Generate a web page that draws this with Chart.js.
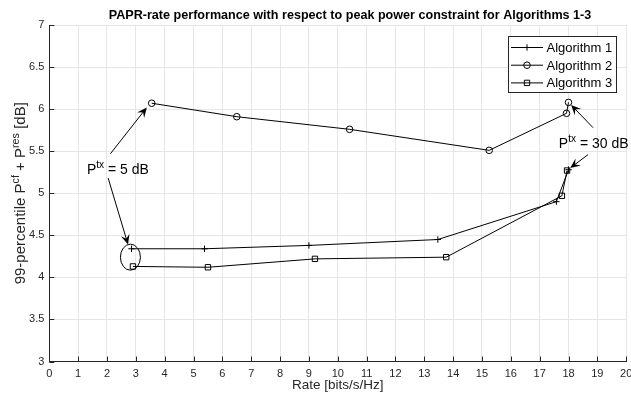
<!DOCTYPE html>
<html>
<head>
<meta charset="utf-8">
<script src="https://cdn.jsdelivr.net/npm/chart.js@4.4.0/dist/chart.umd.min.js"></script>
<style>
body{margin:0;background:#fff}
#wrap{width:631px;height:397px}
</style>
</head>
<body>
<div id="wrap"><canvas id="c"></canvas></div>
<script>
// values
const seriesNames = ["Algorithm 1","Algorithm 2","Algorithm 3"];
const alg1Rate = [2.85, 5.38, 9.0, 13.47, 17.58, 18.0];
const alg1Papr = [4.34, 4.34, 4.38, 4.45, 4.90, 5.28];
const alg2Rate = [3.55, 6.5, 10.41, 15.25, 17.93, 18.0];
const alg2Papr = [6.07, 5.91, 5.76, 5.51, 5.95, 6.08];
const alg3Rate = [2.9, 5.5, 9.21, 13.76, 17.77, 17.95];
const alg3Papr = [4.13, 4.12, 4.22, 4.24, 4.97, 5.27];
const xRange = [0, 20], xStep = 1;
const yRange = [3, 7], yStep = 0.5;

const FONT = "'Liberation Sans', Arial, Helvetica, sans-serif";
const AXIS = "#262626";
const pts = (xs, ys) => xs.map((x, i) => ({x: x, y: ys[i]}));
const markers = ["cross", "circle", "rect"];
const markerSize = [3.2, 3.3, 3.8];

function ds(i, xs, ys){
    return {
        label: seriesNames[i], data: pts(xs, ys),
        borderColor: "#000", borderWidth: 1, tension: 0,
        pointStyle: markers[i], pointRadius: markerSize[i], pointHoverRadius: markerSize[i],
        pointBorderColor: "#000", pointBorderWidth: 1, pointBackgroundColor: "rgba(0,0,0,0)"
    };
}

function drawRich(ctx, parts, x, y, size){
    // parts: [text, isSup]
    let cx = x;
    parts.forEach(p => {
        const s = p[1] ? size * 0.72 : size;
        ctx.font = s + "px " + FONT;
        ctx.fillText(p[0], cx, p[1] ? y - size * 0.42 : y);
        cx += ctx.measureText(p[0]).width;
    });
    return cx - x;
}
function richWidth(ctx, parts, size){
    let w = 0;
    parts.forEach(p => { ctx.font = (p[1] ? size * 0.72 : size) + "px " + FONT; w += ctx.measureText(p[0]).width; });
    return w;
}
function arrow(ctx, x1, y1, x2, y2){
    const a = Math.atan2(y2 - y1, x2 - x1), L = 10, W = 4.5;
    ctx.beginPath(); ctx.moveTo(x1, y1); ctx.lineTo(x2 - Math.cos(a) * 5, y2 - Math.sin(a) * 5); ctx.stroke();
    ctx.beginPath();
    ctx.moveTo(x2, y2);
    ctx.lineTo(x2 - L * Math.cos(a) + W * Math.sin(a), y2 - L * Math.sin(a) - W * Math.cos(a));
    ctx.lineTo(x2 - 0.6 * L * Math.cos(a), y2 - 0.6 * L * Math.sin(a));
    ctx.lineTo(x2 - L * Math.cos(a) - W * Math.sin(a), y2 - L * Math.sin(a) + W * Math.cos(a));
    ctx.closePath(); ctx.fill();
}

const decor = {
    id: "decor",
    afterDraw(chart){
        const ctx = chart.ctx, a = chart.chartArea;
        const xs = chart.scales.x, ys = chart.scales.y;
        const P = (x, y) => [xs.getPixelForValue(x), ys.getPixelForValue(y)];
        ctx.save();
        // inward ticks
        ctx.strokeStyle = AXIS; ctx.lineWidth = 1;
        ctx.beginPath();
        xs.ticks.forEach(t => { const px = Math.round(xs.getPixelForValue(t.value)) + 0.5; ctx.moveTo(px, a.bottom); ctx.lineTo(px, a.bottom - 5); });
        ys.ticks.forEach(t => { const py = Math.round(ys.getPixelForValue(t.value)) + 0.5; ctx.moveTo(a.left, py); ctx.lineTo(a.left + 5, py); });
        ctx.stroke();

        ctx.fillStyle = "#000"; ctx.textBaseline = "alphabetic";
        // title
        ctx.font = "bold 12.6px " + FONT; ctx.textAlign = "center";
        ctx.fillText("PAPR-rate performance with respect to peak power constraint for Algorithms 1-3", 350, 19);
        // axis titles
        ctx.fillStyle = AXIS;
        ctx.font = "13.5px " + FONT;
        ctx.fillText("Rate [bits/s/Hz]", (a.left + a.right) / 2, 389);
        const yParts = [["99-percentile P", 0], ["cf", 1], [" + P", 0], ["res", 1], [" [dB]", 0]];
        ctx.save();
        ctx.translate(25, (a.top + a.bottom) / 2); ctx.rotate(-Math.PI / 2);
        ctx.textAlign = "left";
        drawRich(ctx, yParts, -richWidth(ctx, yParts, 15) / 2, 0, 15);
        ctx.restore();

        // annotations
        ctx.fillStyle = "#000"; ctx.strokeStyle = "#000"; ctx.lineWidth = 1; ctx.textAlign = "left";
        let p = P(1.306, 5.232);
        drawRich(ctx, [["P", 0], ["tx", 1], [" = 5 dB", 0]], p[0], p[1], 14);
        p = P(17.665, 5.538);
        drawRich(ctx, [["P", 0], ["tx", 1], [" = 30 dB", 0]], p[0], p[1], 14);
        [[2.12, 5.47, 3.38, 6.02], [2.04, 5.18, 2.73, 4.39], [18.85, 5.78, 18.09, 6.05], [18.68, 5.46, 18.06, 5.30]].forEach(r => {
            const s = P(r[0], r[1]), e = P(r[2], r[3]);
            arrow(ctx, s[0], s[1], e[0], e[1]);
        });
        const c = P(2.812, 4.24);
        ctx.beginPath(); ctx.ellipse(c[0], c[1], 10, 13, 0, 0, Math.PI * 2); ctx.stroke();

        // legend
        const lx = 508.5, ly = 36.5, lw = 108, lh = 56;
        ctx.fillStyle = "#fff"; ctx.fillRect(lx, ly, lw, lh);
        ctx.strokeStyle = AXIS; ctx.lineWidth = 1; ctx.strokeRect(lx, ly, lw, lh);
        chart.data.datasets.forEach((d, i) => {
            const yy = 47.5 + i * 17.7;
            ctx.strokeStyle = "#000";
            ctx.beginPath(); ctx.moveTo(511, yy); ctx.lineTo(543, yy); ctx.stroke();
            ctx.fillStyle = "rgba(0,0,0,0)";
            Chart.helpers.drawPoint(ctx, {pointStyle: d.pointStyle, radius: d.pointRadius, rotation: 0, borderWidth: 1}, 527, yy);
            ctx.fillStyle = "#000"; ctx.font = "13px " + FONT;
            ctx.fillText(d.label, 546.5, yy + 4.5);
        });
        ctx.restore();
    }
};

new Chart(document.getElementById("c"), {
    type: "line",
    data: { datasets: [ds(0, alg1Rate, alg1Papr), ds(1, alg2Rate, alg2Papr), ds(2, alg3Rate, alg3Papr)] },
    options: {
        responsive: true, maintainAspectRatio: false, animation: false,
        layout: { padding: { top: 25, right: 2.7, bottom: 0, left: 0 } },
        plugins: { legend: { display: false }, tooltip: { enabled: false } },
        scales: {
            x: {
                type: "linear", min: xRange[0], max: xRange[1],
                ticks: { stepSize: xStep, color: AXIS, font: { size: 11, family: FONT }, padding: 6, maxRotation: 0, autoSkip: false },
                grid: { color: "#e6e6e6", drawTicks: false },
                border: { display: true, color: AXIS, width: 1 },
                afterFit: s => { s.height = 35.5; s.paddingLeft = 0; s.paddingRight = 0; }
            },
            y: {
                type: "linear", min: yRange[0], max: yRange[1],
                ticks: { stepSize: yStep, color: AXIS, font: { size: 11, family: FONT }, padding: 5, callback: v => String(+v.toFixed(1)) },
                grid: { color: "#e6e6e6", drawTicks: false },
                border: { display: true, color: AXIS, width: 1 },
                afterFit: s => { s.width = 49.3; }
            }
        }
    },
    plugins: [decor]
});
</script>
</body>
</html>
